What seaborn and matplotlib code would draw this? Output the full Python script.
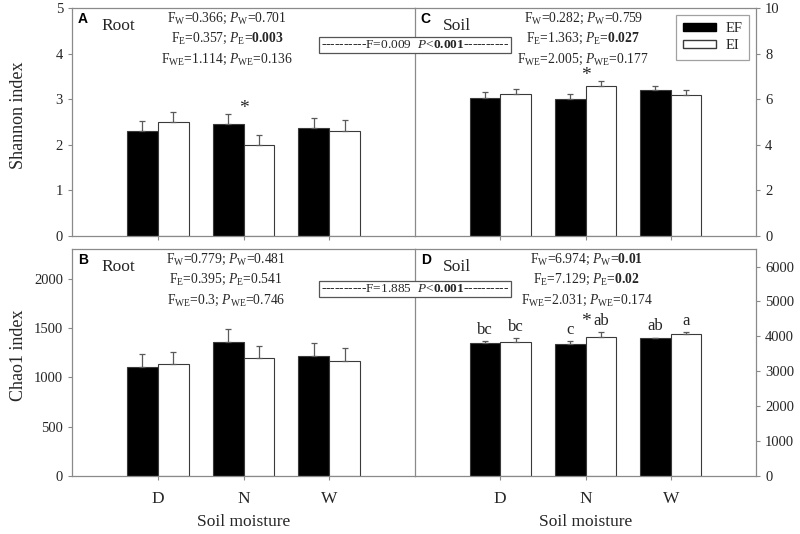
import matplotlib
matplotlib.use('Agg')
import matplotlib.pyplot as plt
import numpy as np
import pandas as pd
import seaborn as sns
from matplotlib.patches import Patch

moisture = ['D', 'N', 'W']
treatments = ['EF', 'EI']

# Shannon index, root
shannon_root_ef = [2.31, 2.45, 2.36]
shannon_root_ef_se = [0.22, 0.23, 0.22]
shannon_root_ei = [2.50, 1.99, 2.31]
shannon_root_ei_se = [0.22, 0.22, 0.23]
# Shannon index, soil
shannon_soil_ef = [6.05, 5.99, 6.40]
shannon_soil_ef_se = [0.25, 0.22, 0.19]
shannon_soil_ei = [6.22, 6.59, 6.19]
shannon_soil_ei_se = [0.25, 0.22, 0.21]
# Chao1 index, root
chao_root_ef = [1105, 1359, 1220]
chao_root_ef_se = [132, 133, 126]
chao_root_ei = [1132, 1197, 1166]
chao_root_ei_se = [129, 125, 129]
# Chao1 index, soil
chao_soil_ef = [3815, 3777, 3950]
chao_soil_ef_se = [49, 96, 15]
chao_soil_ei = [3835, 3969, 4055]
chao_soil_ei_se = [115, 144, 77]

letters_soil_ef = ['bc', 'c', 'ab']
letters_soil_ei = ['bc', 'ab', 'a']

stats_a = [r'F$_\mathrm{W}$=0.366; $P_\mathrm{W}$=0.701',
           r'F$_\mathrm{E}$=0.357; $P_\mathrm{E}$=$\mathbf{0.003}$',
           r'F$_\mathrm{WE}$=1.114; $P_\mathrm{WE}$=0.136']
stats_c = [r'F$_\mathrm{W}$=0.282; $P_\mathrm{W}$=0.759',
           r'F$_\mathrm{E}$=1.363; $P_\mathrm{E}$=$\mathbf{0.027}$',
           r'F$_\mathrm{WE}$=2.005; $P_\mathrm{WE}$=0.177']
stats_b = [r'F$_\mathrm{W}$=0.779; $P_\mathrm{W}$=0.481',
           r'F$_\mathrm{E}$=0.395; $P_\mathrm{E}$=0.541',
           r'F$_\mathrm{WE}$=0.3; $P_\mathrm{WE}$=0.746']
stats_d = [r'F$_\mathrm{W}$=6.974; $P_\mathrm{W}$=$\mathbf{0.01}$',
           r'F$_\mathrm{E}$=7.129; $P_\mathrm{E}$=$\mathbf{0.02}$',
           r'F$_\mathrm{WE}$=2.031; $P_\mathrm{WE}$=0.174']
box_top = r'----------F=0.009  $P$<$\mathbf{0.001}$----------'
box_bottom = r'----------F=1.885  $P$<$\mathbf{0.001}$----------'

sns.set_style('ticks')
plt.rcParams['font.family'] = ['Liberation Serif', 'DejaVu Serif']
plt.rcParams['mathtext.fontset'] = 'custom'
plt.rcParams['mathtext.rm'] = 'Liberation Serif'
plt.rcParams['mathtext.it'] = 'Liberation Serif:italic'
plt.rcParams['mathtext.bf'] = 'Liberation Serif:bold'

SPINE = '#8a8a8a'
TXT = '#262626'


def make_df(ef, ei):
    return pd.DataFrame({'moisture': moisture * 2,
                         'value': list(ef) + list(ei),
                         'treatment': ['EF'] * 3 + ['EI'] * 3})


def draw_panel(ax, ef, ef_se, ei, ei_se, ylim, yticks, side):
    df = make_df(ef, ei)
    sns.barplot(data=df, x='moisture', y='value', hue='treatment',
                palette={'EF': 'black', 'EI': 'white'}, width=0.72,
                errorbar=None, edgecolor='#3a3a3a', linewidth=0.8,
                legend=False, ax=ax)
    bars = sorted(ax.patches, key=lambda p: p.get_x())
    se = [v for pair in zip(ef_se, ei_se) for v in pair]
    xs = [p.get_x() + p.get_width() / 2 for p in bars]
    hs = [p.get_height() for p in bars]
    ax.errorbar(xs, hs, yerr=[np.zeros(len(se)), se], fmt='none',
                ecolor='#5a5a5a', elinewidth=0.9, capsize=2.5, capthick=0.9)
    ax.set_xlim(-1, 3)
    ax.set_ylim(*ylim)
    ax.set_yticks(yticks)
    ax.set_xlabel('')
    ax.set_ylabel('')
    for s in ax.spines.values():
        s.set_color(SPINE)
        s.set_linewidth(0.9)
        s.set_visible(True)
    ax.tick_params(axis='both', colors=SPINE, labelcolor=TXT, length=3, width=0.8)
    ax.tick_params(axis='y', labelsize=10.5)
    ax.tick_params(axis='x', labelsize=12.5, pad=8)
    if side == 'right':
        ax.yaxis.tick_right()
    else:
        # divider is drawn by the right-hand panel
        ax.spines['right'].set_visible(False)
    return xs, hs, se


fig = plt.figure(figsize=(8, 5.34), dpi=100)
ax_a = fig.add_axes([0.09, 0.558, 0.42875, 0.427])
ax_c = fig.add_axes([0.51875, 0.558, 0.42625, 0.427])
ax_b = fig.add_axes([0.09, 0.1086, 0.42875, 0.425])
ax_d = fig.add_axes([0.51875, 0.1086, 0.42625, 0.425])

ra = draw_panel(ax_a, shannon_root_ef, shannon_root_ef_se, shannon_root_ei, shannon_root_ei_se,
                (0, 5), np.arange(0, 6, 1), 'left')
rc = draw_panel(ax_c, shannon_soil_ef, shannon_soil_ef_se, shannon_soil_ei, shannon_soil_ei_se,
                (0, 10), np.arange(0, 11, 2), 'right')
rb = draw_panel(ax_b, chao_root_ef, chao_root_ef_se, chao_root_ei, chao_root_ei_se,
                (0, 2300), np.arange(0, 2001, 500), 'left')
rd = draw_panel(ax_d, chao_soil_ef, chao_soil_ef_se, chao_soil_ei, chao_soil_ei_se,
                (0, 6500), np.arange(0, 6001, 1000), 'right')

for ax in (ax_a, ax_c):
    ax.set_xticklabels([])
for ax in (ax_b, ax_d):
    ax.set_xlabel('Soil moisture', fontsize=12.5, color=TXT, labelpad=5)

ax_a.set_ylabel('Shannon index', fontsize=13, color=TXT)
ax_b.set_ylabel('Chao1 index', fontsize=13, color=TXT)
for ax in (ax_a, ax_b):
    ax.yaxis.set_label_coords(-0.13, 0.53)

# panel letters and tissue names
for ax, letter, name in [(ax_a, 'A', 'Root'), (ax_b, 'B', 'Root'),
                         (ax_c, 'C', 'Soil'), (ax_d, 'D', 'Soil')]:
    ax.text(0.017, 0.935, letter, transform=ax.transAxes, fontsize=10,
            fontweight='bold', family='Liberation Sans', color='black', va='baseline')
    ax.text(0.087 if ax in (ax_a, ax_b) else 0.082, 0.905, name, transform=ax.transAxes,
            fontsize=12.5, color=TXT, va='baseline')

# two-way ANOVA text
for ax, lines, xc in [(ax_a, stats_a, 0.452), (ax_c, stats_c, 0.493),
                      (ax_b, stats_b, 0.449), (ax_d, stats_d, 0.504)]:
    for line, yy in zip(lines, [0.94, 0.851, 0.759]):
        ax.text(xc, yy, line, transform=ax.transAxes, ha='center', va='baseline',
                fontsize=9.8, color=TXT)

# asterisks for EF vs EI at N
for ax, res, pad in [(ax_a, ra, 0.025), (ax_c, rc, 0.021), (ax_d, rd, 0.048)]:
    xs, hs, se = res
    top = max(hs[2] + se[2], hs[3] + se[3])
    span = ax.get_ylim()[1]
    ax.text((xs[2] + xs[3]) / 2, top + pad * span, '*', ha='center', va='center',
            fontsize=14, color=TXT)

# letters for soil Chao1
xs, hs, se = rd
lab = [v for pair in zip(letters_soil_ef, letters_soil_ei) for v in pair]
for x, h, s, t in zip(xs, hs, se, lab):
    ax_d.text(x, h + s + 90, t, ha='center', va='bottom', fontsize=12, color=TXT)

# legend
handles = [Patch(facecolor='black', edgecolor='black', label='EF'),
           Patch(facecolor='white', edgecolor='#3a3a3a', label='EI')]
leg = ax_c.legend(handles=handles, loc='upper right', fontsize=10.5, frameon=True,
                  fancybox=False, edgecolor=SPINE, handlelength=2.3, handleheight=0.5,
                  handletextpad=0.6, borderaxespad=0.45, labelspacing=0.3, borderpad=0.5)
leg.get_frame().set_linewidth(0.9)

# F boxes straddling the divider
for yy, txt in [(0.9148, box_top), (0.4597, box_bottom)]:
    fig.text(0.51875, yy, txt, ha='center', va='center', fontsize=9.6, color=TXT,
             bbox=dict(boxstyle='square,pad=0.15', fc='white', ec='#555555', lw=0.9))

fig.savefig('out.png', dpi=100)
